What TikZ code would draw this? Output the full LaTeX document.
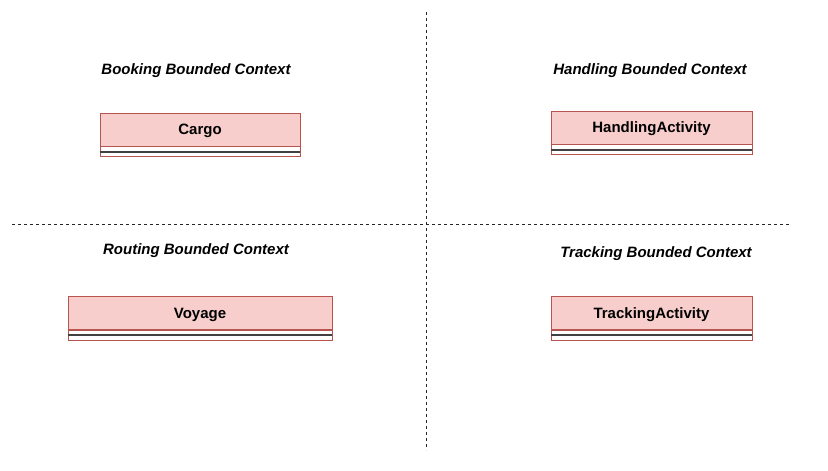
\documentclass[tikz,border=0pt]{standalone}
\usepackage{fontspec}
\setmainfont{Liberation Sans}
\usepackage{xcolor}
\usetikzlibrary{positioning}
\definecolor{classfill}{HTML}{F8CECC}
\definecolor{classline}{HTML}{B85450}

\begin{document}
\begin{tikzpicture}[x=1pt, y=-1pt, node distance=0pt]
    % Styles
    \tikzstyle{classhead} = [rectangle, draw=classline, fill=classfill, line width=0.8pt, minimum height=33pt, font=\fontsize{15}{17}\selectfont\bfseries, inner sep=0pt, text depth=0pt]
    \tikzstyle{classbody} = [rectangle, draw=classline, fill=white, line width=0.8pt, minimum height=10pt, inner sep=0pt]
    \tikzstyle{sepline} = [draw=black!75, line width=1.6pt]
    \tikzstyle{context} = [font=\fontsize{15}{17}\selectfont\bfseries\itshape]
    \tikzstyle{border} = [draw=black!85, line width=0.9pt, dash pattern=on 3pt off 3pt]

    \useasboundingbox (0,0) rectangle (828,471);

    % Borders between contexts
    \coordinate (vtop) at (426,12);
    \coordinate (vbot) at (426,450);
    \coordinate (hleft) at (12,224);
    \coordinate (hright) at (790,224);
    \path [border] (vtop) -- (vbot);
    \path [border] (hleft) -- (hright);

    % Context titles
    \node [context] (booking) at (196,71) {Booking Bounded Context};
    \node [context] (handling) at (650,71) {Handling Bounded Context};
    \node [context] (routing) at (196,251) {Routing Bounded Context};
    \node [context] (tracking) at (656,254) {Tracking Bounded Context};

    % Classes
    \node [classhead, minimum width=200pt, anchor=north] (cargo) at (200,112.5) {Cargo};
    \node [classbody, minimum width=200pt, below=of cargo] (cargobody) {};
    \path [sepline] (cargobody.west) -- (cargobody.east);

    \node [classhead, minimum width=201pt, anchor=north] (handact) at (651.5,110.5) {HandlingActivity};
    \node [classbody, minimum width=201pt, below=of handact] (handactbody) {};
    \path [sepline] (handactbody.west) -- (handactbody.east);

    \node [classhead, minimum width=264pt, anchor=north] (voyage) at (200,296) {Voyage};
    \node [classbody, minimum width=264pt, below=of voyage] (voyagebody) {};
    \path [sepline] (voyagebody.west) -- (voyagebody.east);

    \node [classhead, minimum width=201pt, anchor=north] (trackact) at (651.5,296) {TrackingActivity};
    \node [classbody, minimum width=201pt, below=of trackact] (trackactbody) {};
    \path [sepline] (trackactbody.west) -- (trackactbody.east);
\end{tikzpicture}
\end{document}
